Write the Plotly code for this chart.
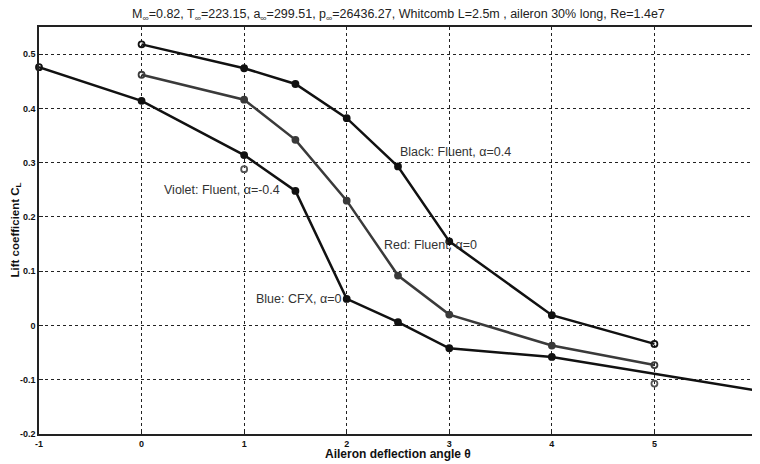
import plotly.graph_objects as go

# aileron deflection angle (deg) and lift coefficient CL for each case
blackX = [0, 1, 1.5, 2, 2.5, 3, 4, 5]
blackY = [0.518, 0.474, 0.445, 0.382, 0.293, 0.155, 0.019, -0.034]

redX = [0, 1, 1.5, 2, 2.5, 3, 4, 5]
redY = [0.462, 0.416, 0.342, 0.230, 0.092, 0.020, -0.037, -0.073]

blueX = [-1, 0, 1, 1.5, 2, 2.5, 3, 4, 6]
blueY = [0.476, 0.414, 0.314, 0.248, 0.049, 0.006, -0.042, -0.058, -0.120]

violetX = [1, 5]
violetY = [0.288, -0.107]

labels = ["Black: Fluent, α=0.4", "Violet: Fluent, α=-0.4", "Red: Fluent, α=0", "Blue: CFX, α=0"]
labelX = [2.50, 0.20, 2.34, 1.10]
labelY = [0.319, 0.249, 0.149, 0.049]

xTicks = [-1, 0, 1, 2, 3, 4, 5, 6]
yTicks = [-0.2, -0.1, 0, 0.1, 0.2, 0.3, 0.4, 0.5]


def symbols(n, openIdx):
    return ["circle-open" if i in openIdx else "circle" for i in range(n)]


fig = go.Figure()


def addLine(x, y, color, openIdx, mode="lines+markers"):
    fig.add_trace(go.Scatter(
        x=x, y=y, mode=mode,
        line=dict(color=color, width=2.5),
        marker=dict(symbol=symbols(len(x), openIdx), size=6, color=color,
                    line=dict(color=color, width=1.8)),
        showlegend=False, cliponaxis=False))


addLine(blackX, blackY, "#111111", [0, len(blackX) - 1])
addLine(redX, redY, "#3a3a3a", [0, len(redX) - 1])
addLine(blueX, blueY, "#111111", [0, len(blueX) - 1])
addLine(violetX, violetY, "#555555", [0, 1], mode="markers")

for t, x, y in zip(labels, labelX, labelY):
    fig.add_annotation(x=x, y=y, text=t, showarrow=False, xanchor="left", yanchor="middle",
                       font=dict(family="Liberation Sans, Arial", size=12.5, color="#333333"))

title = ("M<sub>∞</sub>=0.82, T<sub>∞</sub>=223.15, a<sub>∞</sub>=299.51, "
         "p<sub>∞</sub>=26436.27, Whitcomb L=2.5m , aileron 30% long, Re=1.4e7")
fig.add_annotation(x=0.5, y=1, xref="paper", yref="paper", yshift=2, text=title,
                   showarrow=False, yanchor="bottom",
                   font=dict(family="Liberation Sans, Arial", size=12.5, color="#222222"))
fig.add_annotation(x=0.5, y=0, xref="paper", yref="paper", yshift=-20, text="<b>Aileron deflection angle θ</b>",
                   showarrow=False, yanchor="middle",
                   font=dict(family="Liberation Sans, Arial", size=12, color="#111111"))
fig.add_annotation(x=0, y=0.5, xref="paper", yref="paper", xshift=-24, text="<b>Lift coefficient C<sub>L</sub></b>",
                   showarrow=False, textangle=-90, xanchor="center",
                   font=dict(family="Liberation Sans, Arial", size=11.5, color="#111111"))

axisStyle = dict(showgrid=True, gridcolor="#222222", griddash="dot", gridwidth=1,
                 showline=True, linecolor="#222222", linewidth=1.5, mirror=True,
                 ticks="inside", ticklen=4, tickcolor="#222222", zeroline=False, automargin=False,
                 tickfont=dict(family="Liberation Sans, Arial", size=9, color="#111111"))

fig.update_xaxes(range=[-1, 6], tickvals=xTicks, ticktext=[f"<b>{v}</b>" for v in xTicks], **axisStyle)
fig.update_yaxes(range=[-0.2, 0.55], tickvals=yTicks,
                 ticktext=[f"<b>{v:g}</b>" for v in yTicks], **axisStyle)

# page body has an 8px margin, so the figure is 8px smaller than the window
fig.update_layout(width=752, height=456, margin=dict(l=31, r=3, t=19, b=30),
                  plot_bgcolor="white", paper_bgcolor="white")

fig.write_html("out.html")
